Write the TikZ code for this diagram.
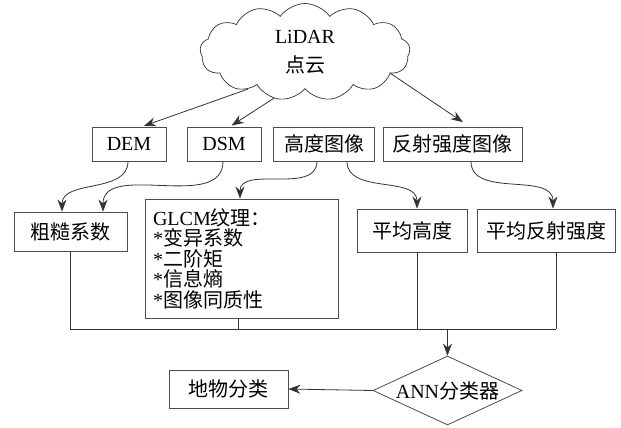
\documentclass[tikz,border=0pt]{standalone}
\usepackage{fontspec}
\setmainfont{Liberation Serif}
\newfontfamily\cjk{Noto Sans CJK SC}
\usetikzlibrary{shapes.geometric,shapes.symbols,arrows.meta}
\begin{document}
\begin{tikzpicture}[x=1pt,y=-1pt,
  every node/.style={font=\fontsize{20}{20.5}\selectfont},
  box/.style={draw=black!70,line width=0.8pt,inner sep=0pt,align=center},
  conn/.style={draw=black!80,line width=0.8pt},
  arr/.style={conn,-{Stealth[length=12pt,width=9pt]}}]
\useasboundingbox (0,0) rectangle (621,428);
\node[cloud, draw=black!80, line width=0.7pt, cloud puffs=13, cloud puff arc=110,
  minimum width=210pt, minimum height=97pt, align=center, inner sep=0pt] (cloud) at (305,52) {LiDAR\\[8pt]{\cjk 点云}};
\node[box,minimum width=74pt,minimum height=34pt] (dem) at (129,144) {DEM};
\node[box,minimum width=74pt,minimum height=34pt] (dsm) at (224,144) {DSM};
\node[box,minimum width=101pt,minimum height=34pt] (himg) at (324,144) {\cjk 高度图像};
\node[box,minimum width=139pt,minimum height=34pt] (rimg) at (452.5,144) {\cjk 反射强度图像};
\node[box,minimum width=113pt,minimum height=39pt] (rough) at (70.5,231.5) {\cjk 粗糙系数};
\node[box,minimum width=193pt,minimum height=119pt,align=left,text width=177pt,inner xsep=8pt] (glcm) at (241.5,258.5)
  {GLCM{\cjk 纹理：}\\{*}{\cjk 变异系数}\\{*}{\cjk 二阶矩}\\{*}{\cjk 信息熵}\\{*}{\cjk 图像同质性}};
\node[box,minimum width=110pt,minimum height=43pt] (avgh) at (412,230.5) {\cjk 平均高度};
\node[box,minimum width=138pt,minimum height=43pt] (avgr) at (546,230.5) {\cjk 平均反射强度};
\node[box,minimum width=119pt,minimum height=38pt] (cls) at (228.5,389) {\cjk 地物分类};
\node[diamond,draw=black!70,line width=0.8pt,minimum width=149pt,minimum height=69pt,inner sep=-2pt,aspect=2.16] (ann) at (447.5,390.5) {ANN{\cjk 分类器}};
% cloud arrows
\draw[arr,shorten >=2pt] (cloud.213) -- ([xshift=13pt]dem.north);
\draw[arr,shorten >=2pt] (cloud.236) -- ([xshift=6pt]dsm.north);
\draw[arr,shorten >=8pt] (cloud.346) -- ([xshift=17pt]rimg.north);
% curved arrows
\draw[arr] ([xshift=-1pt]dem.south) to[out=-90,in=90] ([xshift=-8.5pt]rough.north);
\draw[arr] ([xshift=-1pt]dsm.south) to[out=-90,in=90] ([xshift=32.5pt]rough.north);
\draw[arr] ([xshift=-7pt]himg.south) to[out=-90,in=90] ([xshift=-1.5pt]glcm.north);
\draw[arr] ([xshift=23pt]himg.south) to[out=-90,in=90] ([xshift=5pt]avgh.north);
\draw[arr] ([xshift=18.5pt]rimg.south) to[out=-90,in=90] ([xshift=7pt]avgr.north);
% bus
\coordinate (busL) at (70.5,329);
\coordinate (busR) at (556,329);
\draw[conn] (rough.south) |- (busR);
\draw[conn] ([xshift=10pt]avgr.south) -- (busR);
\draw[conn] ([xshift=-3.5pt]glcm.south) -- ([xshift=-3.5pt]glcm.south |- busL);
\draw[conn] ([xshift=5pt]avgh.south) -- ([xshift=5pt]avgh.south |- busL);
\draw[arr] (ann.north |- busL) -- (ann.north);
\draw[arr] (ann.west) -- (cls.east);
\end{tikzpicture}
\end{document}
